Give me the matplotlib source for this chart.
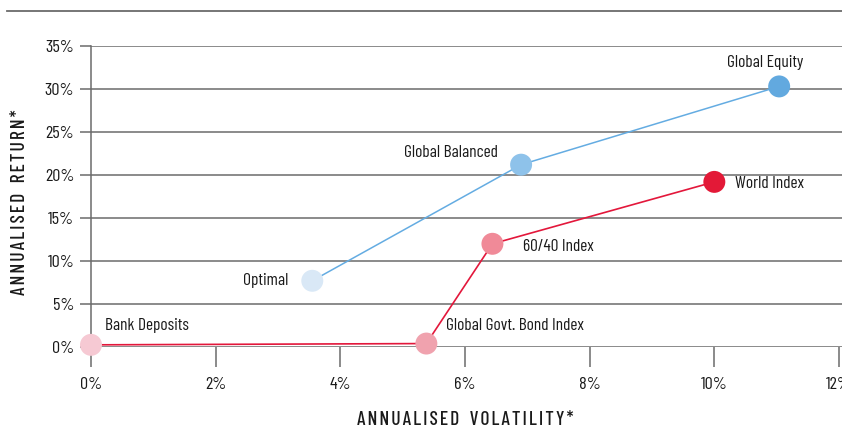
import matplotlib
matplotlib.use("Agg")
import matplotlib.pyplot as plt
from matplotlib.ticker import FuncFormatter

plt.rcParams["font.family"] = ["Barlow Condensed", "DejaVu Sans"]

# Risk / return points (annualised volatility %, annualised return %)
blue_names = ["Optimal", "Global Balanced", "Global Equity"]
blue_vol = [3.55, 6.9, 11.04]
blue_ret = [7.7, 21.2, 30.3]
blue_colors = ["#d9e8f6", "#8ec2ea", "#62a9df"]

red_names = ["Bank Deposits", "Global Govt. Bond Index", "60/40 Index", "World Index"]
red_vol = [0.0, 5.38, 6.44, 10.0]
red_ret = [0.25, 0.4, 12.0, 19.2]
red_colors = ["#f6c9d3", "#f0a2ae", "#f08a98", "#e31937"]

x_ticks = [0, 2, 4, 6, 8, 10, 12]
y_ticks = [0, 5, 10, 15, 20, 25, 30, 35]

GRID = "#6b6b6b"
TEXT = "#1a1a1a"

fig = plt.figure(figsize=(8.42, 4.32), dpi=100)
ax = fig.add_axes([91 / 842, 85 / 432, 751 / 842, 301 / 432])
ax.set_xlim(0, 12 * 751 / 748)
ax.set_ylim(0, 35)

# horizontal rules at each return level
for y in y_ticks:
    ax.axhline(y, color=GRID, lw=1.1, zorder=1)
ax.set_yticks(y_ticks)
ax.set_xticks(x_ticks)
ax.yaxis.set_major_formatter(FuncFormatter(lambda v, p: f"{v:.0f}%"))
ax.xaxis.set_major_formatter(FuncFormatter(lambda v, p: f"{v:.0f}%"))
ax.tick_params(axis="y", length=8, width=1.1, color=GRID, pad=4,
               labelsize=13, labelcolor=TEXT)
ax.tick_params(axis="x", length=14.5, width=1.1, color=GRID, pad=7,
               labelsize=13, labelcolor=TEXT)
for side in ["top", "right", "bottom"]:
    ax.spines[side].set_visible(False)
ax.spines["left"].set_color(GRID)
ax.spines["left"].set_linewidth(1.1)

# frontier lines
ax.plot(blue_vol, blue_ret, color="#64ace2", lw=1.1, zorder=2)
ax.plot(red_vol, red_ret, color="#e3173b", lw=1.2, zorder=2)
ax.scatter(blue_vol, blue_ret, s=250, c=blue_colors, edgecolors="none",
           zorder=3, clip_on=False)
ax.scatter(red_vol, red_ret, s=250, c=red_colors, edgecolors="none",
           zorder=3, clip_on=False)

label_fs = 12.5
offsets = {
    "Optimal": (-17, 0, "right", "center"),
    "Global Balanced": (-17, 9, "right", "center"),
    "Global Equity": (-10, 17, "center", "center"),
    "Bank Deposits": (10, 14, "left", "center"),
    "Global Govt. Bond Index": (14, 13, "left", "center"),
    "60/40 Index": (22, -2, "left", "center"),
    "World Index": (15, -1, "left", "center"),
}
for names, xs, ys in [(blue_names, blue_vol, blue_ret), (red_names, red_vol, red_ret)]:
    for n, x, y in zip(names, xs, ys):
        dx, dy, ha, va = offsets[n]
        ax.annotate(n, (x, y), xytext=(dx, dy), textcoords="offset points",
                    ha=ha, va=va, fontsize=label_fs, color=TEXT, zorder=4)


def spaced(s):
    return "\u200a".join(s.replace(" ", "\u2004"))


fig.text(465 / 842, 1 - 420 / 432, spaced("ANNUALISED VOLATILITY*"),
         ha="center", va="center", fontsize=14, color=TEXT, fontweight="medium")
fig.text(20 / 842, 1 - 202 / 432, spaced("ANNUALISED RETURN*"),
         ha="center", va="center", fontsize=14, color=TEXT, rotation=90,
         fontweight="medium")

# rule across the top of the figure
fig.add_artist(plt.Line2D([7 / 842, 1], [1 - 11 / 432] * 2, color=GRID, lw=1.3))

fig.savefig("out.png")
